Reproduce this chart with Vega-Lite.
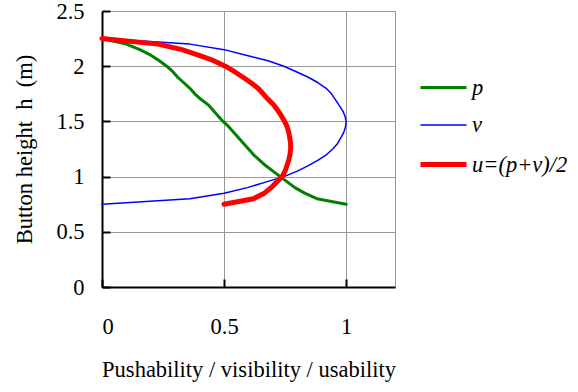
{
  "$schema": "https://vega.github.io/schema/vega-lite/v6.json",
  "width": 293,
  "height": 276,
  "autosize": "none",
  "padding": {"left": 102, "top": 11, "right": 183, "bottom": 105},
  "background": "white",
  "config": {
    "view": {"stroke": "#999999", "strokeWidth": 1},
    "font": "Liberation Serif"
  },
  "data": {
    "values": [
      {"s": "p", "h": 0.75, "x": 1.0},
      {"s": "p", "h": 0.80, "x": 0.88},
      {"s": "p", "h": 0.85, "x": 0.83},
      {"s": "p", "h": 0.90, "x": 0.79},
      {"s": "p", "h": 0.95, "x": 0.76},
      {"s": "p", "h": 1.00, "x": 0.73},
      {"s": "p", "h": 1.05, "x": 0.70},
      {"s": "p", "h": 1.10, "x": 0.67},
      {"s": "p", "h": 1.15, "x": 0.645},
      {"s": "p", "h": 1.20, "x": 0.62},
      {"s": "p", "h": 1.25, "x": 0.60},
      {"s": "p", "h": 1.30, "x": 0.58},
      {"s": "p", "h": 1.35, "x": 0.56},
      {"s": "p", "h": 1.40, "x": 0.54},
      {"s": "p", "h": 1.45, "x": 0.52},
      {"s": "p", "h": 1.50, "x": 0.496},
      {"s": "p", "h": 1.55, "x": 0.475},
      {"s": "p", "h": 1.60, "x": 0.455},
      {"s": "p", "h": 1.65, "x": 0.435},
      {"s": "p", "h": 1.70, "x": 0.405},
      {"s": "p", "h": 1.75, "x": 0.38},
      {"s": "p", "h": 1.80, "x": 0.36},
      {"s": "p", "h": 1.85, "x": 0.335},
      {"s": "p", "h": 1.90, "x": 0.31},
      {"s": "p", "h": 1.95, "x": 0.29},
      {"s": "p", "h": 2.00, "x": 0.265},
      {"s": "p", "h": 2.05, "x": 0.235},
      {"s": "p", "h": 2.10, "x": 0.20},
      {"s": "p", "h": 2.15, "x": 0.155},
      {"s": "p", "h": 2.20, "x": 0.10},
      {"s": "p", "h": 2.25, "x": 0.0},
      {"s": "v", "h": 0.75, "x": 0.0},
      {"s": "v", "h": 0.80, "x": 0.36},
      {"s": "v", "h": 0.85, "x": 0.50},
      {"s": "v", "h": 0.90, "x": 0.595},
      {"s": "v", "h": 0.95, "x": 0.67},
      {"s": "v", "h": 1.00, "x": 0.745},
      {"s": "v", "h": 1.05, "x": 0.80},
      {"s": "v", "h": 1.10, "x": 0.845},
      {"s": "v", "h": 1.15, "x": 0.885},
      {"s": "v", "h": 1.20, "x": 0.92},
      {"s": "v", "h": 1.25, "x": 0.945},
      {"s": "v", "h": 1.30, "x": 0.965},
      {"s": "v", "h": 1.35, "x": 0.978},
      {"s": "v", "h": 1.40, "x": 0.99},
      {"s": "v", "h": 1.45, "x": 0.997},
      {"s": "v", "h": 1.50, "x": 1.0},
      {"s": "v", "h": 1.55, "x": 0.995},
      {"s": "v", "h": 1.60, "x": 0.985},
      {"s": "v", "h": 1.65, "x": 0.97},
      {"s": "v", "h": 1.70, "x": 0.955},
      {"s": "v", "h": 1.75, "x": 0.94},
      {"s": "v", "h": 1.80, "x": 0.918},
      {"s": "v", "h": 1.85, "x": 0.885},
      {"s": "v", "h": 1.90, "x": 0.845},
      {"s": "v", "h": 1.95, "x": 0.796},
      {"s": "v", "h": 2.00, "x": 0.745},
      {"s": "v", "h": 2.05, "x": 0.68},
      {"s": "v", "h": 2.10, "x": 0.59},
      {"s": "v", "h": 2.15, "x": 0.50},
      {"s": "v", "h": 2.20, "x": 0.36},
      {"s": "v", "h": 2.25, "x": 0.0},
      {"s": "u=(p+v)/2", "h": 0.75, "x": 0.5},
      {"s": "u=(p+v)/2", "h": 0.80, "x": 0.62},
      {"s": "u=(p+v)/2", "h": 0.85, "x": 0.665},
      {"s": "u=(p+v)/2", "h": 0.90, "x": 0.6925},
      {"s": "u=(p+v)/2", "h": 0.95, "x": 0.715},
      {"s": "u=(p+v)/2", "h": 1.00, "x": 0.7375},
      {"s": "u=(p+v)/2", "h": 1.05, "x": 0.75},
      {"s": "u=(p+v)/2", "h": 1.10, "x": 0.7575},
      {"s": "u=(p+v)/2", "h": 1.15, "x": 0.765},
      {"s": "u=(p+v)/2", "h": 1.20, "x": 0.77},
      {"s": "u=(p+v)/2", "h": 1.25, "x": 0.7725},
      {"s": "u=(p+v)/2", "h": 1.30, "x": 0.7725},
      {"s": "u=(p+v)/2", "h": 1.35, "x": 0.769},
      {"s": "u=(p+v)/2", "h": 1.40, "x": 0.765},
      {"s": "u=(p+v)/2", "h": 1.45, "x": 0.7585},
      {"s": "u=(p+v)/2", "h": 1.50, "x": 0.748},
      {"s": "u=(p+v)/2", "h": 1.55, "x": 0.735},
      {"s": "u=(p+v)/2", "h": 1.60, "x": 0.72},
      {"s": "u=(p+v)/2", "h": 1.65, "x": 0.7025},
      {"s": "u=(p+v)/2", "h": 1.70, "x": 0.68},
      {"s": "u=(p+v)/2", "h": 1.75, "x": 0.66},
      {"s": "u=(p+v)/2", "h": 1.80, "x": 0.639},
      {"s": "u=(p+v)/2", "h": 1.85, "x": 0.61},
      {"s": "u=(p+v)/2", "h": 1.90, "x": 0.5775},
      {"s": "u=(p+v)/2", "h": 1.95, "x": 0.543},
      {"s": "u=(p+v)/2", "h": 2.00, "x": 0.505},
      {"s": "u=(p+v)/2", "h": 2.05, "x": 0.4575},
      {"s": "u=(p+v)/2", "h": 2.10, "x": 0.395},
      {"s": "u=(p+v)/2", "h": 2.15, "x": 0.3275},
      {"s": "u=(p+v)/2", "h": 2.20, "x": 0.23},
      {"s": "u=(p+v)/2", "h": 2.25, "x": 0.0}
    ]
  },
  "mark": {"type": "line", "strokeJoin": "round", "strokeCap": "round"},
  "encoding": {
    "x": {
      "field": "x",
      "type": "quantitative",
      "scale": {"domain": [0, 1.2], "nice": false, "zero": false},
      "axis": {
        "title": "Pushability / visibility / usability",
        "values": [0, 0.5, 1],
        "labelExpr": "toString(datum.value)",
        "grid": true,
        "gridColor": "#999999",
        "gridWidth": 1,
        "domainColor": "#000000",
        "domainWidth": 2,
        "tickColor": "#000000",
        "tickWidth": 2,
        "tickSize": -8,
        "labelPadding": 36,
        "labelFont": "Liberation Serif",
        "labelFontSize": 22.5,
        "labelColor": "#000000",
        "titleFont": "Liberation Serif",
        "titleFontSize": 22.5,
        "titleFontWeight": "normal",
        "titleColor": "#000000",
        "titlePadding": 21
      }
    },
    "y": {
      "field": "h",
      "type": "quantitative",
      "scale": {"domain": [0, 2.5], "nice": false},
      "axis": {
        "title": "Button height\u00a0\u00a0h\u00a0\u00a0(m)",
        "values": [0, 0.5, 1, 1.5, 2, 2.5],
        "labelExpr": "toString(datum.value)",
        "grid": true,
        "gridColor": "#999999",
        "gridWidth": 1,
        "domainColor": "#000000",
        "domainWidth": 2,
        "tickColor": "#000000",
        "tickWidth": 2,
        "tickSize": -8,
        "labelPadding": 26,
        "labelFont": "Liberation Serif",
        "labelFontSize": 22.5,
        "labelColor": "#000000",
        "titleFont": "Liberation Serif",
        "titleFontSize": 22.5,
        "titleFontWeight": "normal",
        "titleColor": "#000000",
        "titlePadding": 19
      }
    },
    "order": {"field": "h", "type": "quantitative"},
    "color": {
      "field": "s",
      "type": "nominal",
      "scale": {"domain": ["p", "v", "u=(p+v)/2"], "range": ["#008000", "#0000ff", "#ff0000"]},
      "legend": {
        "title": null,
        "orient": "none",
        "legendX": 316,
        "legendY": 52,
        "symbolType": "stroke",
        "symbolSize": 2116,
        "labelFont": "Liberation Serif",
        "labelFontStyle": "italic",
        "labelFontSize": 22.5,
        "labelColor": "#000000",
        "labelOffset": 3,
        "rowPadding": 2
      }
    },
    "strokeWidth": {
      "field": "s",
      "type": "nominal",
      "scale": {"type": "ordinal", "domain": ["p", "v", "u=(p+v)/2"], "range": [3, 1.5, 5]},
      "legend": {
        "title": null,
        "orient": "none",
        "legendX": 316,
        "legendY": 52,
        "symbolType": "stroke",
        "symbolSize": 2116,
        "labelFont": "Liberation Serif",
        "labelFontStyle": "italic",
        "labelFontSize": 22.5,
        "labelColor": "#000000",
        "labelOffset": 3,
        "rowPadding": 2
      }
    }
  }
}
